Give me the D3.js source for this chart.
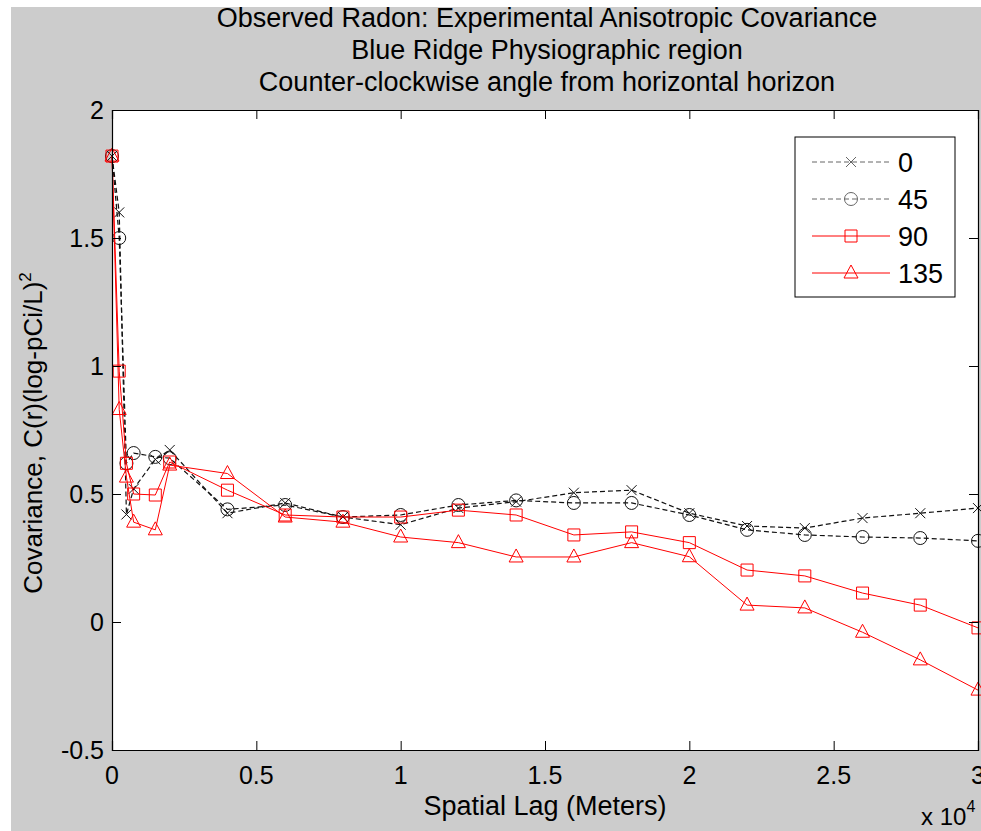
<!DOCTYPE html>
<html>
<head>
<meta charset="utf-8"/>
<script src="https://cdn.jsdelivr.net/npm/d3@7"></script>
<style>
  body { margin: 0; background: #fff; }
  text { font-family: "Liberation Sans", Arial, sans-serif; fill: #000; }
</style>
</head>
<body>
<svg id="chart"></svg>
<script>
// spatial lag bins (meters)
const lags = [0, 250, 500, 750, 1500, 2000, 4000, 6000, 8000, 10000, 12000, 14000,
              16000, 18000, 20000, 22000, 24000, 26000, 28000, 30000]

const c0   = [1.82, 1.60, 0.42, 0.52, 0.635, 0.672, 0.425, 0.465, 0.41, 0.38, 0.445, 0.47,
              0.505, 0.515, 0.425, 0.375, 0.367, 0.406, 0.425, 0.445]
const c45  = [1.82, 1.50, 0.62, 0.66, 0.645, 0.64, 0.44, 0.457, 0.41, 0.418, 0.457, 0.475,
              0.465, 0.465, 0.418, 0.36, 0.34, 0.332, 0.328, 0.317]
const c90  = [1.82, 0.98, 0.62, 0.50, 0.496, 0.625, 0.515, 0.418, 0.41, 0.41, 0.437, 0.418,
              0.34, 0.352, 0.31, 0.203, 0.18, 0.113, 0.066, -0.023]
const c135 = [1.82, 0.83, 0.566, 0.39, 0.36, 0.613, 0.58, 0.41, 0.39, 0.332, 0.31, 0.254,
              0.254, 0.31, 0.255, 0.066, 0.055, -0.04, -0.148, -0.266]

const angles = ['0', '45', '90', '135']
const xTicks = [0, 5000, 10000, 15000, 20000, 25000, 30000]
const yTicks = [-0.5, 0, 0.5, 1, 1.5, 2]
const titleLines = ['Observed Radon: Experimental Anisotropic Covariance',
                    'Blue Ridge Physiographic region',
                    'Counter-clockwise angle from horizontal horizon']

const width = 981
const height = 831
const axL = 112, axR = 978, axT = 110, axB = 750

const svg = d3.select('#chart')
  .attr('width', width)
  .attr('height', height)

// grey figure background
svg.append('rect')
  .attr('x', 11).attr('y', 7)
  .attr('width', width - 11).attr('height', height - 7)
  .attr('fill', '#cccccc')

const x = d3.scaleLinear().domain([0, 30000]).range([axL, axR])
const y = d3.scaleLinear().domain([-0.5, 2]).range([axB, axT])

svg.append('rect')
  .attr('x', axL).attr('y', axT)
  .attr('width', axR - axL).attr('height', axB - axT)
  .attr('fill', '#fff')

const series = [
  {name: angles[0], values: c0,   color: '#111', dash: '5,3', marker: 'x'},
  {name: angles[1], values: c45,  color: '#111', dash: '5,3', marker: 'circle'},
  {name: angles[2], values: c90,  color: '#ff0000', dash: null, marker: 'square'},
  {name: angles[3], values: c135, color: '#ff0000', dash: null, marker: 'triangle'}
]

function markerPath(type) {
  if (type === 'x') return 'M-5,-5L5,5M-5,5L5,-5'
  if (type === 'circle') return 'M-6.5,0A6.5,6.5 0 1,0 6.5,0A6.5,6.5 0 1,0 -6.5,0'
  if (type === 'square') return 'M-6,-6H6V6H-6Z'
  return 'M0,-8L7,5H-7Z'
}

const line = d3.line()
  .x((d) => x(d[0]))
  .y((d) => y(d[1]))

const plot = svg.append('g')

for (const s of series) {
  const pts = lags.map((l, i) => [l, s.values[i]])
  plot.append('path')
    .attr('d', line(pts))
    .attr('fill', 'none')
    .attr('stroke', s.color)
    .attr('stroke-width', s.dash ? 1.2 : 1)
    .attr('stroke-dasharray', s.dash)

  plot.append('g')
    .selectAll('path')
    .data(pts)
    .enter()
    .append('path')
    .attr('transform', (d) => `translate(${x(d[0])},${y(d[1])})`)
    .attr('d', markerPath(s.marker))
    .attr('fill', 'none')
    .attr('stroke', s.color)
    .attr('stroke-width', 1)
}

// axes box with inward ticks on all four sides
const tickLen = 9
const axBottom = d3.axisBottom(x).tickValues(xTicks).tickSize(-tickLen).tickFormat('')
const axTop = d3.axisTop(x).tickValues(xTicks).tickSize(-tickLen).tickFormat('')
const axLeft = d3.axisLeft(y).tickValues(yTicks).tickSize(-tickLen).tickFormat('')
const axRight = d3.axisRight(y).tickValues(yTicks).tickSize(-tickLen).tickFormat('')

const axes = [
  svg.append('g').attr('transform', `translate(0,${axB})`).call(axBottom),
  svg.append('g').attr('transform', `translate(0,${axT})`).call(axTop),
  svg.append('g').attr('transform', `translate(${axL},0)`).call(axLeft),
  svg.append('g').attr('transform', `translate(${axR},0)`).call(axRight)
]
axes.forEach((g) => {
  g.select('.domain').attr('stroke', '#000').attr('stroke-width', 1.2)
  g.selectAll('.tick line').attr('stroke', '#000')
})

// tick labels
svg.append('g')
  .selectAll('text')
  .data(xTicks)
  .enter()
  .append('text')
  .attr('x', (d) => x(d))
  .attr('y', axB + 34)
  .attr('text-anchor', 'middle')
  .style('font-size', '25px')
  .text((d) => d / 1e4)

svg.append('g')
  .selectAll('text')
  .data(yTicks)
  .enter()
  .append('text')
  .attr('x', axL - 8)
  .attr('y', (d) => y(d) + 9)
  .attr('text-anchor', 'end')
  .style('font-size', '25px')
  .text((d) => d)

// x 10^4 multiplier
const mult = svg.append('text')
  .attr('x', 921)
  .attr('y', 825)
  .style('font-size', '24px')
mult.append('tspan').text('x 10')
mult.append('tspan').attr('dy', -13).style('font-size', '16px').text('4')

// axis labels
svg.append('text')
  .attr('x', (axL + axR) / 2)
  .attr('y', 815)
  .attr('text-anchor', 'middle')
  .style('font-size', '27px')
  .text('Spatial Lag (Meters)')

const ylab = svg.append('text')
  .attr('transform', 'translate(42,433) rotate(-90)')
  .attr('text-anchor', 'middle')
  .style('font-size', '26px')
ylab.append('tspan').text('Covariance, C(r)(log-pCi/L)')
ylab.append('tspan').attr('dy', -11).style('font-size', '17px').text('2')

// title
svg.append('g')
  .selectAll('text')
  .data(titleLines)
  .enter()
  .append('text')
  .attr('x', 547)
  .attr('y', (d, i) => 27 + i * 32)
  .attr('text-anchor', 'middle')
  .style('font-size', '27px')
  .text((d) => d)

// legend
const legend = svg.append('g')
legend.append('rect')
  .attr('x', 795).attr('y', 137)
  .attr('width', 160).attr('height', 160)
  .attr('fill', '#fff')
  .attr('stroke', '#000')
  .attr('stroke-width', 1)

series.forEach((s, i) => {
  const ly = 162 + i * 37
  const lc = s.dash ? '#666' : s.color
  legend.append('line')
    .attr('x1', 812).attr('x2', 890)
    .attr('y1', ly).attr('y2', ly)
    .attr('stroke', lc)
    .attr('stroke-dasharray', s.dash)
  legend.append('path')
    .attr('transform', `translate(851,${ly})`)
    .attr('d', markerPath(s.marker))
    .attr('fill', 'none')
    .attr('stroke', lc)
  legend.append('text')
    .attr('x', 898)
    .attr('y', ly + 10)
    .style('font-size', '27px')
    .text(s.name)
})
</script>
</body>
</html>
